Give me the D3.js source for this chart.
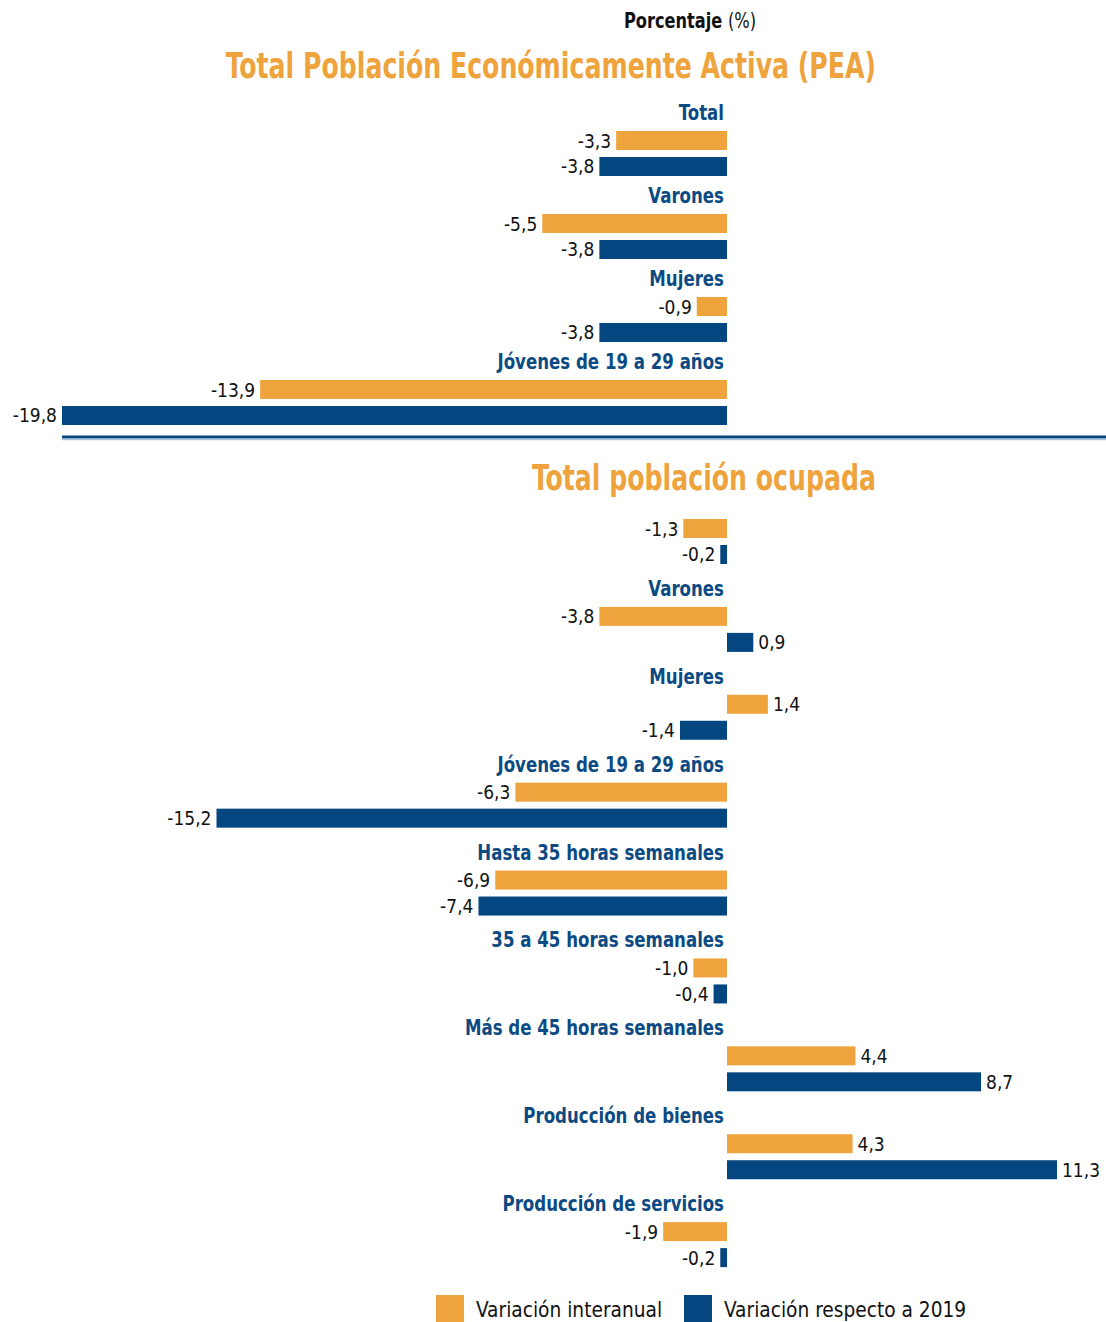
<!DOCTYPE html>
<html>
<head>
<meta charset="utf-8">
<script src="https://cdn.jsdelivr.net/npm/d3@7"></script>
<style>
  body { margin: 0; background: #fff; }
  svg { font-family: "DejaVu Sans Condensed", "DejaVu Sans", sans-serif; font-stretch: condensed; }
</style>
</head>
<body>
<div id="chart"></div>
<script>
// data
const series = ["Variación interanual", "Variación respecto a 2019"];

const peaCats = ["Total", "Varones", "Mujeres", "Jóvenes de 19 a 29 años"];
const peaInter = [-3.3, -5.5, -0.9, -13.9];
const pea2019 = [-3.8, -3.8, -3.8, -19.8];

const ocuCats = ["", "Varones", "Mujeres", "Jóvenes de 19 a 29 años",
  "Hasta 35 horas semanales", "35 a 45 horas semanales", "Más de 45 horas semanales",
  "Producción de bienes", "Producción de servicios"];
const ocuInter = [-1.3, -3.8, 1.4, -6.3, -6.9, -1.0, 4.4, 4.3, -1.9];
const ocu2019 = [-0.2, 0.9, -1.4, -15.2, -7.4, -0.4, 8.7, 11.3, -0.2];

const width = 1106, height = 1322;
const orange = "#EFA33C", blue = "#044680";
const colors = [orange, blue];

const svg = d3.select("#chart").append("svg")
  .attr("width", width)
  .attr("height", height);

// x scale, zero at 727
const sx = d3.scaleLinear()
  .domain([-19.8, 0, 11.3])
  .range([62, 727, 1057]);

const fmt = v => d3.format(".1f")(v).replace(".", ",").replace("−", "-");

// squeeze text horizontally, the original font is narrower than anything installed
const squeeze = (x, y, k) => `translate(${x},${y}) scale(${k},1)`;

// header
const head = svg.append("text")
  .attr("transform", squeeze(690, 28, 0.82))
  .attr("text-anchor", "middle")
  .attr("font-size", 22)
  .attr("fill", "#111");
head.append("tspan").attr("font-weight", "bold").text("Porcentaje ");
head.append("tspan").text("(%)");

function section(cats, inter, v2019, title, titleY, y0, y1) {
  const rows = cats.map((c, i) => ({cat: c, vals: [inter[i], v2019[i]]}));

  const sy = d3.scaleBand()
    .domain(d3.range(rows.length))
    .range([y0, y1]);

  const inner = d3.scaleBand()
    .domain([0, 1])
    .range([19, 64])
    .paddingInner(0.269);

  svg.append("text")
    .attr("transform", squeeze(876, titleY, 0.8))
    .attr("text-anchor", "end")
    .attr("font-size", 35)
    .attr("font-weight", "bold")
    .attr("fill", orange)
    .text(title);

  const g = svg.selectAll(null)
    .data(rows)
    .enter()
    .append("g")
    .attr("transform", (d, i) => `translate(0,${sy(i)})`);

  g.append("text")
    .attr("transform", squeeze(724, 8, 0.84))
    .attr("text-anchor", "end")
    .attr("font-size", 22)
    .attr("font-weight", "bold")
    .attr("fill", "#0B4A82")
    .text(d => d.cat);

  const b = g.selectAll("g.bar")
    .data(d => d.vals)
    .enter()
    .append("g")
    .attr("class", "bar");

  b.append("rect")
    .attr("x", v => Math.min(sx(v), sx(0)))
    .attr("y", (v, j) => inner(j))
    .attr("width", v => Math.abs(sx(v) - sx(0)))
    .attr("height", inner.bandwidth())
    .attr("fill", (v, j) => colors[j]);

  b.append("text")
    .attr("transform", (v, j) => squeeze(v < 0 ? sx(v) - 5 : sx(v) + 5,
      inner(j) + inner.bandwidth() / 2 + 7, 0.95))
    .attr("text-anchor", v => v < 0 ? "end" : "start")
    .attr("font-size", 20)
    .attr("fill", "#111")
    .text(v => fmt(v));
}

section(peaCats, peaInter, pea2019, "Total Población Económicamente Activa (PEA)", 78, 112, 444);
section(ocuCats, ocuInter, ocu2019, "Total población ocupada", 490, 500, 1291);

// separator
svg.append("line")
  .attr("x1", 62).attr("x2", width)
  .attr("y1", 437).attr("y2", 437)
  .attr("stroke", blue).attr("stroke-width", 3);
svg.append("line")
  .attr("x1", 62).attr("x2", width)
  .attr("y1", 439.5).attr("y2", 439.5)
  .attr("stroke", "#A9C1DC").attr("stroke-width", 1.5);

// legend
const legX = [436, 684];
const leg = svg.selectAll(".leg")
  .data(series)
  .enter()
  .append("g")
  .attr("class", "leg")
  .attr("transform", (d, i) => `translate(${legX[i]},1295)`);
leg.append("rect")
  .attr("width", 28).attr("height", 27)
  .attr("fill", (d, i) => colors[i]);
leg.append("text")
  .attr("transform", squeeze(40, 22, 0.94))
  .attr("font-size", 22)
  .attr("fill", "#111")
  .text(d => d);
</script>
</body>
</html>
